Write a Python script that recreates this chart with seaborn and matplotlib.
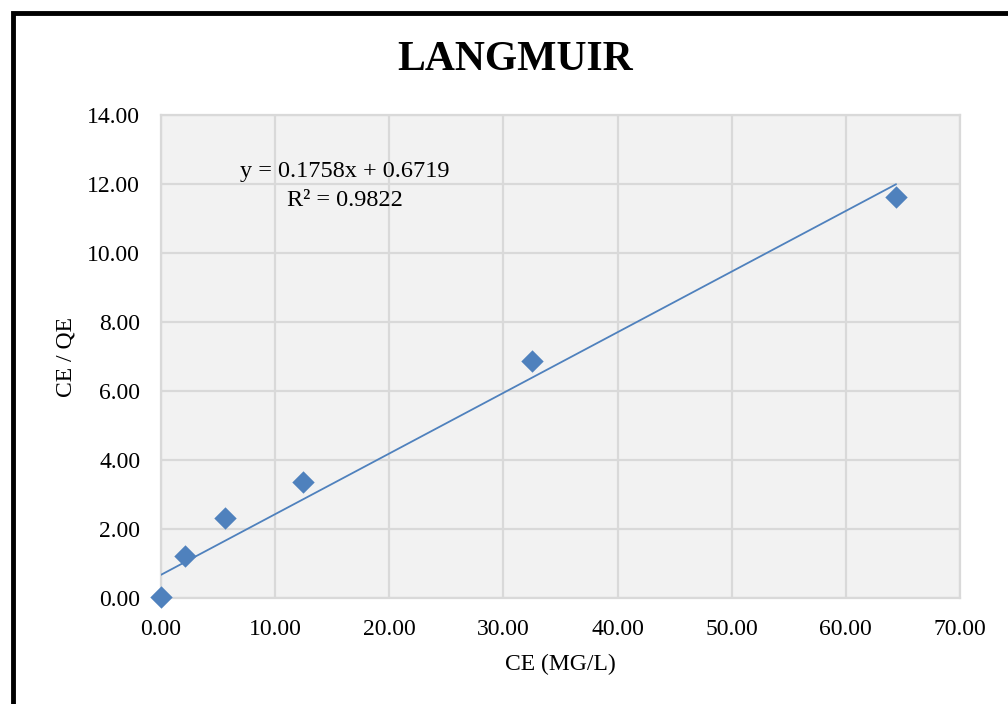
import matplotlib
matplotlib.use("Agg")
import matplotlib.pyplot as plt
import seaborn as sns
import pandas as pd
import numpy as np
from matplotlib.patches import Rectangle
from matplotlib.ticker import FormatStrFormatter, MultipleLocator

# Data
ce = [0.0, 2.1, 5.6, 12.4, 32.5, 64.4]
ce_qe = [0.02, 1.22, 2.32, 3.35, 6.87, 11.62]
slope = 0.1758
intercept = 0.6719
r2 = 0.9822

df = pd.DataFrame({"CE": ce, "CE/QE": ce_qe})
trend_x = np.array([min(ce), max(ce)])
df_trend = pd.DataFrame({"CE": trend_x, "fit": slope * trend_x + intercept})

blue = "#4f81bd"
grid_col = "#d9d9d9"
text_col = "#000000"

sns.set_theme(style="whitegrid")
plt.rcParams["font.family"] = ["Liberation Serif", "DejaVu Serif"]

W, H = 1008, 704
fig = plt.figure(figsize=(W / 100, H / 100), dpi=100)
ax = fig.add_axes([161 / W, 1 - 598 / H, (960 - 161) / W, (598 - 115) / H])
ax.set_facecolor("#f2f2f2")

sns.lineplot(data=df_trend, x="CE", y="fit", color=blue, linewidth=1.3, ax=ax, zorder=3)
sns.scatterplot(data=df, x="CE", y="CE/QE", marker="D", s=130, color=blue,
                edgecolor=blue, linewidth=0, ax=ax, zorder=4, clip_on=False)

ax.set_xlim(0, 70)
ax.set_ylim(0, 14)
ax.xaxis.set_major_locator(MultipleLocator(10))
ax.yaxis.set_major_locator(MultipleLocator(2))
ax.xaxis.set_major_formatter(FormatStrFormatter("%.2f"))
ax.yaxis.set_major_formatter(FormatStrFormatter("%.2f"))
ax.grid(True, color=grid_col, linewidth=1.6)
for sp in ax.spines.values():
    sp.set_color(grid_col)
    sp.set_linewidth(1.6)
ax.tick_params(axis="x", length=0, labelsize=17, colors=text_col, pad=15)
ax.tick_params(axis="y", length=0, labelsize=17, colors=text_col, pad=15)

ax.set_xlabel("CE (MG/L)", fontsize=17, color=text_col, labelpad=10)
ax.set_ylabel("CE / QE", fontsize=17, color=text_col, labelpad=8)

fig.text(345 / W, 1 - 172 / H, f"y = {slope}x + {intercept}", fontsize=17.5,
         ha="center", va="center", color=text_col)
fig.text(345 / W, 1 - 200 / H, f"R² = {r2}", fontsize=17.5,
         ha="center", va="center", color=text_col)

fig.text(515 / W, 1 - 60 / H, "LANGMUIR", fontsize=30, fontweight="bold",
         ha="center", va="center", color=text_col)

# outer chart frame (partially cropped on the right and bottom)
fig.patches.append(Rectangle((13 / W, -0.1), 1.2, 1 - 13 / H + 0.1,
                             transform=fig.transFigure, fill=False,
                             edgecolor="black", linewidth=3.5))

fig.savefig("out.png", dpi=100)
